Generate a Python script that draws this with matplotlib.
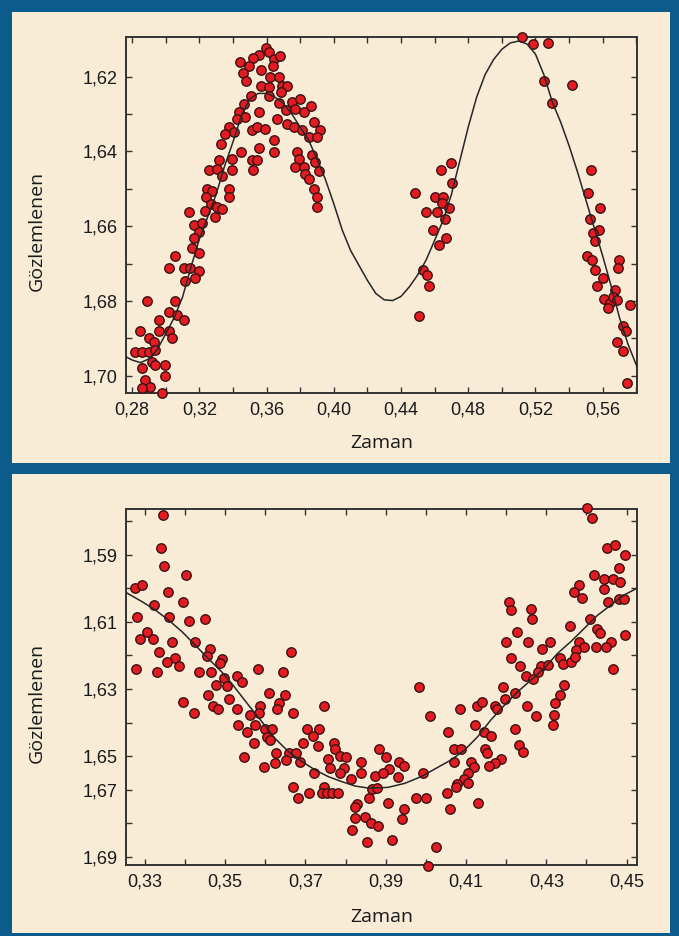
import matplotlib
matplotlib.use("Agg")
import matplotlib.pyplot as plt
from matplotlib.patches import Rectangle
from matplotlib.ticker import FixedLocator, FixedFormatter

# ---------------- data: upper panel ----------------
top_x = [
    0.3597,0.3613,0.3643,0.3682,0.3554,0.3518,0.3444,0.3494,0.3569,0.3637,
    0.3458,0.3478,0.3623,0.3673,0.3569,0.3613,0.3692,0.3722,0.3510,0.3617,
    0.3688,0.3752,0.3801,0.3867,0.3821,0.3673,0.3716,0.3771,0.3464,0.3435,
    0.3554,0.3474,0.3425,0.3663,0.3722,0.3762,0.3881,0.3920,0.3375,0.3405,
    0.3355,0.3514,0.3544,0.3593,0.3811,0.3851,0.3900,0.3643,0.3331,0.3554,
    0.3448,0.3643,0.3782,0.3792,0.3871,0.3514,0.3544,0.3316,0.3395,0.3771,
    0.3821,0.3890,0.3256,0.3306,0.3395,0.3518,0.3335,0.3831,0.3851,0.3911,
    0.3246,0.3276,0.3375,0.3881,0.3240,0.3375,0.3900,0.3272,0.3306,0.3335,
    0.3236,0.3900,0.3137,
    0.3296,0.3167,0.3217,0.3197,0.3167,0.3157,0.3200,0.3054,0.3022,0.3108,
    0.3147,0.3197,0.3117,0.3177,0.2889,0.3054,0.3018,0.3068,0.3108,0.2959,
    0.2849,0.2962,0.3018,0.3038,0.2899,0.2929,0.2820,0.2860,0.2899,0.2939,
    0.2919,0.2939,0.2998,0.2860,0.2998,0.2879,0.2909,0.2860,0.2979,
    0.5118,0.5187,0.5273,0.5251,0.5416,0.5297,0.4636,0.4696,0.4702,0.4484,
    0.4602,0.4652,0.4642,0.4688,0.4549,0.4613,0.4662,0.4592,0.4668,0.4628,
    0.4529,0.4553,0.4569,0.4509,
    0.5529,0.5514,0.5584,0.5525,0.5580,0.5544,0.5554,0.5509,0.5535,0.5554,
    0.5600,0.5564,0.5699,0.5693,0.5673,0.5608,0.5644,0.5663,0.5633,0.5683,
    0.5763,0.5719,0.5739,0.5683,0.5719,0.5743,
]
top_y = [
    1.6123,1.6135,1.6153,1.6144,1.6141,1.6150,1.6161,1.6173,1.6182,1.6173,
    1.6191,1.6211,1.6200,1.6202,1.6224,1.6228,1.6224,1.6224,1.6251,1.6251,
    1.6242,1.6269,1.6260,1.6280,1.6295,1.6271,1.6289,1.6286,1.6273,1.6295,
    1.6295,1.6309,1.6313,1.6313,1.6327,1.6335,1.6322,1.6343,1.6335,1.6349,
    1.6353,1.6344,1.6335,1.6340,1.6344,1.6362,1.6362,1.6369,1.6380,1.6391,
    1.6402,1.6402,1.6402,1.6420,1.6411,1.6423,1.6423,1.6423,1.6420,1.6442,
    1.6442,1.6429,1.6450,1.6447,1.6450,1.6450,1.6465,1.6460,1.6474,1.6452,
    1.6500,1.6505,1.6500,1.6500,1.6521,1.6521,1.6521,1.6541,1.6550,1.6554,
    1.6559,1.6550,1.6563,
    1.6575,1.6597,1.6592,1.6615,1.6632,1.6659,1.6673,1.6679,1.6711,1.6711,
    1.6713,1.6720,1.6747,1.6740,1.6800,1.6800,1.6829,1.6838,1.6851,1.6851,
    1.6880,1.6880,1.6880,1.6900,1.6900,1.6911,1.6936,1.6936,1.6936,1.6931,
    1.6963,1.6972,1.6972,1.6980,1.7000,1.7012,1.7030,1.7032,1.7047,
    1.6093,1.6113,1.6111,1.6213,1.6222,1.6271,1.6450,1.6432,1.6484,1.6512,
    1.6523,1.6521,1.6539,1.6552,1.6563,1.6563,1.6582,1.6610,1.6632,1.6650,
    1.6717,1.6731,1.6760,1.6840,
    1.6450,1.6512,1.6552,1.6582,1.6610,1.6619,1.6639,1.6680,1.6690,1.6717,
    1.6740,1.6760,1.6690,1.6713,1.6771,1.6796,1.6806,1.6789,1.6820,1.6798,
    1.6811,1.6867,1.6880,1.6909,1.6933,1.7019,
]
top_fit_x = [0.2762,0.2800,0.2850,0.2900,0.2950,0.3000,0.3050,0.3100,0.3150,0.3200,
             0.3250,0.3300,0.3350,0.3400,0.3450,0.3500,0.3550,0.3600,0.3650,0.3700,
             0.3750,0.3800,0.3850,0.3900,0.3950,0.4000,0.4050,0.4100,0.4150,0.4200,
             0.4250,0.4300,0.4350,0.4400,0.4450,0.4500,0.4550,0.4600,0.4650,0.4700,
             0.4750,0.4800,0.4850,0.4900,0.4950,0.5000,0.5050,0.5100,0.5150,0.5200,
             0.5250,0.5300,0.5350,0.5400,0.5450,0.5500,0.5550,0.5600,0.5650,0.5700,
             0.5750,0.5804]
top_fit_y = [1.6949,1.6958,1.6965,1.6955,1.6930,1.6888,1.6845,1.6790,1.6710,1.6635,
             1.6575,1.6515,1.6440,1.6375,1.6305,1.6260,1.6245,1.6245,1.6255,1.6272,
             1.6300,1.6335,1.6370,1.6420,1.6475,1.6540,1.6610,1.6665,1.6705,1.6745,
             1.6780,1.6797,1.6799,1.6788,1.6762,1.6730,1.6690,1.6638,1.6585,1.6515,
             1.6425,1.6335,1.6255,1.6195,1.6155,1.6127,1.6110,1.6105,1.6113,1.6140,
             1.6195,1.6268,1.6322,1.6385,1.6455,1.6530,1.6605,1.6680,1.6760,1.6845,
             1.6915,1.6976]
top_xticks = [0.28,0.30,0.32,0.34,0.36,0.38,0.40,0.42,0.44,0.46,0.48,0.50,0.52,0.54,0.56,0.58]
top_xlabels = ["0,28","","0,32","","0,36","","0,40","","0,44","","0,48","","0,52","","0,56",""]
top_yticks = [1.62,1.63,1.64,1.65,1.66,1.67,1.68,1.69,1.70]
top_ylabels = ["1,62","","1,64","","1,66","","1,68","","1,70"]

# ---------------- data: lower panel ----------------
bot_x = [
    0.3344,0.3341,0.3347,0.3402,0.3276,0.3293,0.3357,0.3322,0.3394,0.3280,
    0.3360,0.3410,0.3449,0.3305,0.3288,0.3319,0.3367,0.3425,0.3334,0.3463,
    0.3454,0.3664,0.3374,0.3355,0.3385,0.3492,0.3488,0.3278,0.3330,0.3435,
    0.3465,0.3582,0.3643,0.3529,0.3496,0.3543,0.3477,0.3504,
    0.3396,0.3421,0.3457,0.3469,0.3482,0.3510,0.3529,0.3608,0.3649,0.3633,
    0.3629,0.3587,0.3583,0.3562,0.3670,0.3747,0.3533,0.3575,0.3554,0.3600,
    0.3616,0.3604,0.3612,0.3571,0.3703,0.3734,0.3718,0.3693,0.3731,0.3770,
    0.3774,0.3626,0.3658,0.3676,0.3786,0.3800,0.3548,0.3757,0.3623,0.3651,
    0.3687,0.3839,0.3596,0.3761,0.3795,0.3720,0.3786,0.3839,0.3872,0.3814,
    0.3883,0.3668,0.3681,0.3708,0.3745,0.3741,0.3753,0.3767,0.3782,0.3865,
    0.3878,0.3857,0.3828,0.3824,0.3824,0.3849,0.3863,0.3880,0.3815,0.3853,
    0.4402,0.4414,0.4451,0.4471,0.4496,0.4482,0.4418,0.4443,0.4465,0.4484,
    0.4445,0.4382,0.4370,0.4388,0.4453,0.4480,0.4494,0.4208,0.4211,0.4262,
    0.4264,0.4410,0.4358,0.4426,0.4435,0.4496,0.4227,0.4200,0.4254,0.4310,
    0.4460,0.4382,0.4395,0.4374,0.4424,0.4449,0.4289,0.4212,0.4235,0.4333,
    0.4341,0.4361,0.4371,0.4465,0.4287,0.4303,0.4279,0.4249,0.4266,0.3984,
    0.4191,0.4345,
    0.4011,0.4084,0.4127,0.4139,0.4171,0.4177,0.4197,0.4222,0.4252,0.4274,
    0.4335,0.4322,0.4318,0.4316,0.4054,0.4122,0.4144,0.4161,0.4221,0.4233,
    0.4241,0.4069,0.4088,0.4147,0.4152,0.4187,0.4172,0.4158,0.4069,0.4113,
    0.4121,0.4106,0.4094,0.4104,0.4078,0.4075,0.4053,0.3992,0.3901,0.3934,
    0.3945,0.3909,0.3893,0.3930,0.3976,0.4000,0.3905,0.4059,0.4131,0.3945,
    0.3940,0.3915,0.4025,0.4006,
]
bot_y = [
    1.5782,1.5879,1.5933,1.5961,1.6000,1.5990,1.6010,1.6050,1.6042,1.6085,
    1.6085,1.6098,1.6092,1.6129,1.6152,1.6152,1.6159,1.6159,1.6189,1.6181,
    1.6201,1.6189,1.6209,1.6220,1.6231,1.6211,1.6224,1.6240,1.6248,1.6248,
    1.6248,1.6240,1.6248,1.6260,1.6268,1.6280,1.6288,1.6290,
    1.6338,1.6370,1.6318,1.6351,1.6360,1.6331,1.6360,1.6311,1.6318,1.6341,
    1.6360,1.6351,1.6372,1.6377,1.6370,1.6351,1.6407,1.6407,1.6427,1.6420,
    1.6420,1.6442,1.6452,1.6460,1.6420,1.6420,1.6440,1.6460,1.6470,1.6460,
    1.6479,1.6490,1.6490,1.6490,1.6499,1.6503,1.6501,1.6509,1.6519,1.6511,
    1.6516,1.6516,1.6531,1.6536,1.6536,1.6551,1.6549,1.6549,1.6559,1.6569,
    1.6479,1.6591,1.6625,1.6610,1.6591,1.6610,1.6610,1.6610,1.6610,1.6598,
    1.6595,1.6625,1.6642,1.6652,1.6685,1.6680,1.6698,1.6708,1.6720,1.6757,
    1.5760,1.5792,1.5879,1.5871,1.5901,1.5941,1.5961,1.5971,1.5973,1.5982,
    1.6002,1.5990,1.6010,1.6030,1.6042,1.6032,1.6032,1.6042,1.6065,1.6062,
    1.6092,1.6092,1.6112,1.6121,1.6134,1.6139,1.6131,1.6159,1.6159,1.6159,
    1.6159,1.6161,1.6174,1.6184,1.6174,1.6174,1.6181,1.6209,1.6231,1.6209,
    1.6226,1.6220,1.6204,1.6240,1.6231,1.6229,1.6248,1.6260,1.6270,1.6293,
    1.6293,1.6288,
    1.6380,1.6360,1.6351,1.6338,1.6351,1.6360,1.6331,1.6311,1.6351,1.6380,
    1.6318,1.6341,1.6377,1.6407,1.6427,1.6407,1.6427,1.6440,1.6420,1.6467,
    1.6487,1.6479,1.6479,1.6479,1.6491,1.6509,1.6519,1.6529,1.6516,1.6516,
    1.6533,1.6551,1.6569,1.6579,1.6583,1.6593,1.6610,1.6549,1.6501,1.6516,
    1.6529,1.6539,1.6551,1.6561,1.6625,1.6625,1.6640,1.6658,1.6638,1.6658,
    1.6688,1.6751,1.6769,1.6827,
]
bot_fit_x = [0.3252,0.3293,0.3326,0.3359,0.3392,0.3425,0.3459,0.3492,0.3517,0.3558,
             0.3591,0.3624,0.3658,0.3691,0.3724,0.3757,0.3791,0.3824,0.3857,0.3905,
             0.3947,0.3988,0.4030,0.4063,0.4096,0.4129,0.4162,0.4196,0.4229,0.4295,
             0.4328,0.4361,0.4395,0.4428,0.4461,0.4494,0.4526]
bot_fit_y = [1.6012,1.6040,1.6065,1.6095,1.6129,1.6169,1.6211,1.6250,1.6285,1.6348,
             1.6397,1.6447,1.6487,1.6516,1.6541,1.6561,1.6576,1.6589,1.6595,1.6593,
             1.6581,1.6561,1.6533,1.6511,1.6482,1.6442,1.6392,1.6348,1.6308,1.6238,
             1.6194,1.6159,1.6119,1.6080,1.6050,1.6020,1.6000]
bot_xticks = [0.33,0.34,0.35,0.36,0.37,0.38,0.39,0.40,0.41,0.42,0.43,0.44,0.45]
bot_xlabels = ["0,33","","0,35","","0,37","","0,39","","0,41","","0,43","","0,45"]
bot_yticks = [1.58,1.59,1.60,1.61,1.62,1.63,1.64,1.65,1.66,1.67,1.68]
bot_ylabels = ["","1,59","","1,61","","1,63","","1,65","1,67","","1,69"]

x_title = "Zaman"
y_title = "Gözlemlenen"

# ---------------- styling ----------------
BLUE = "#0b5c8c"
BEIGE = "#f9ecd7"
RED = "#e31b22"
EDGE = "#3a1210"
LINE = "#262626"
SPINE = "#333333"
tick_font = ["Liberation Sans Narrow", "Liberation Sans", "DejaVu Sans"]
label_font = ["Open Sans", "DejaVu Sans"]

W, H = 679, 936
fig = plt.figure(figsize=(W / 100, H / 100), dpi=100, facecolor=BLUE)

def fx(px):
    return px / W

def fy(py):
    return 1 - py / H

# beige panels (drawn below the axes)
for (y0, y1) in ((12, 463), (474, 933)):
    fig.patches.append(Rectangle((fx(12), fy(y1)), fx(670) - fx(12), fy(y0) - fy(y1),
                                 transform=fig.transFigure, facecolor=BEIGE,
                                 edgecolor="none", zorder=-5))

def make_axes(top_px, bottom_px):
    left, right = 125.7, 637.0
    ax = fig.add_axes([fx(left), fy(bottom_px), (right - left) / W, (bottom_px - top_px) / H])
    ax.set_zorder(2)
    return ax

def style(ax, xt, xl, yt, yl, xlim, ylim):
    ax.set_facecolor(BEIGE)
    ax.set_xlim(*xlim)
    ax.set_ylim(*ylim)
    ax.xaxis.set_major_locator(FixedLocator(xt))
    ax.xaxis.set_major_formatter(FixedFormatter(xl))
    ax.yaxis.set_major_locator(FixedLocator(yt))
    ax.yaxis.set_major_formatter(FixedFormatter(yl))
    ax.tick_params(direction="in", length=4.5, width=1.0, color=SPINE,
                   top=True, right=True, labelsize=13, labelcolor="#1a1a1a")
    ax.tick_params(axis="x", pad=6)
    ax.tick_params(axis="y", pad=6)
    for lab in ax.get_xticklabels() + ax.get_yticklabels():
        lab.set_family(tick_font)
    for sp in ax.spines.values():
        sp.set_color(SPINE)
        sp.set_linewidth(1.4)

def draw(ax, x, y, fxs, fys):
    ax.plot(x, y, linestyle="none", marker="o", ms=6.8, mfc=RED, mec=EDGE, mew=1.0,
            zorder=3, clip_on=False)
    ax.plot(fxs, fys, color=LINE, lw=1.1, zorder=4)

# upper panel
ax1 = make_axes(37.3, 393.3)
draw(ax1, top_x, top_y, top_fit_x, top_fit_y)
style(ax1, top_xticks, top_xlabels, top_yticks, top_ylabels,
      (0.2762, 0.5804), (1.7047, 1.6095))

# lower panel
ax2 = make_axes(509.0, 865.0)
draw(ax2, bot_x, bot_y, bot_fit_x, bot_fit_y)
style(ax2, bot_xticks, bot_xlabels, bot_yticks, bot_ylabels,
      (0.3252, 0.4526), (1.6824, 1.5764))

for ax in (ax1, ax2):
    ax.set_xlabel(x_title, family=label_font, fontsize=14, color="#1a1a1a")
    ax.set_ylabel(y_title, family=label_font, fontsize=14, color="#1a1a1a")
    ax.yaxis.set_label_coords(-(125.7 - 46) / (637 - 125.7), 0.5 - 16 / 356.0)

ax1.xaxis.set_label_coords(0.5, -(443 - 393.3 - 9) / 356.0)
ax2.xaxis.set_label_coords(0.5, -(917 - 865 - 9) / 356.0)

fig.savefig("out.png", dpi=100, facecolor=BLUE)
